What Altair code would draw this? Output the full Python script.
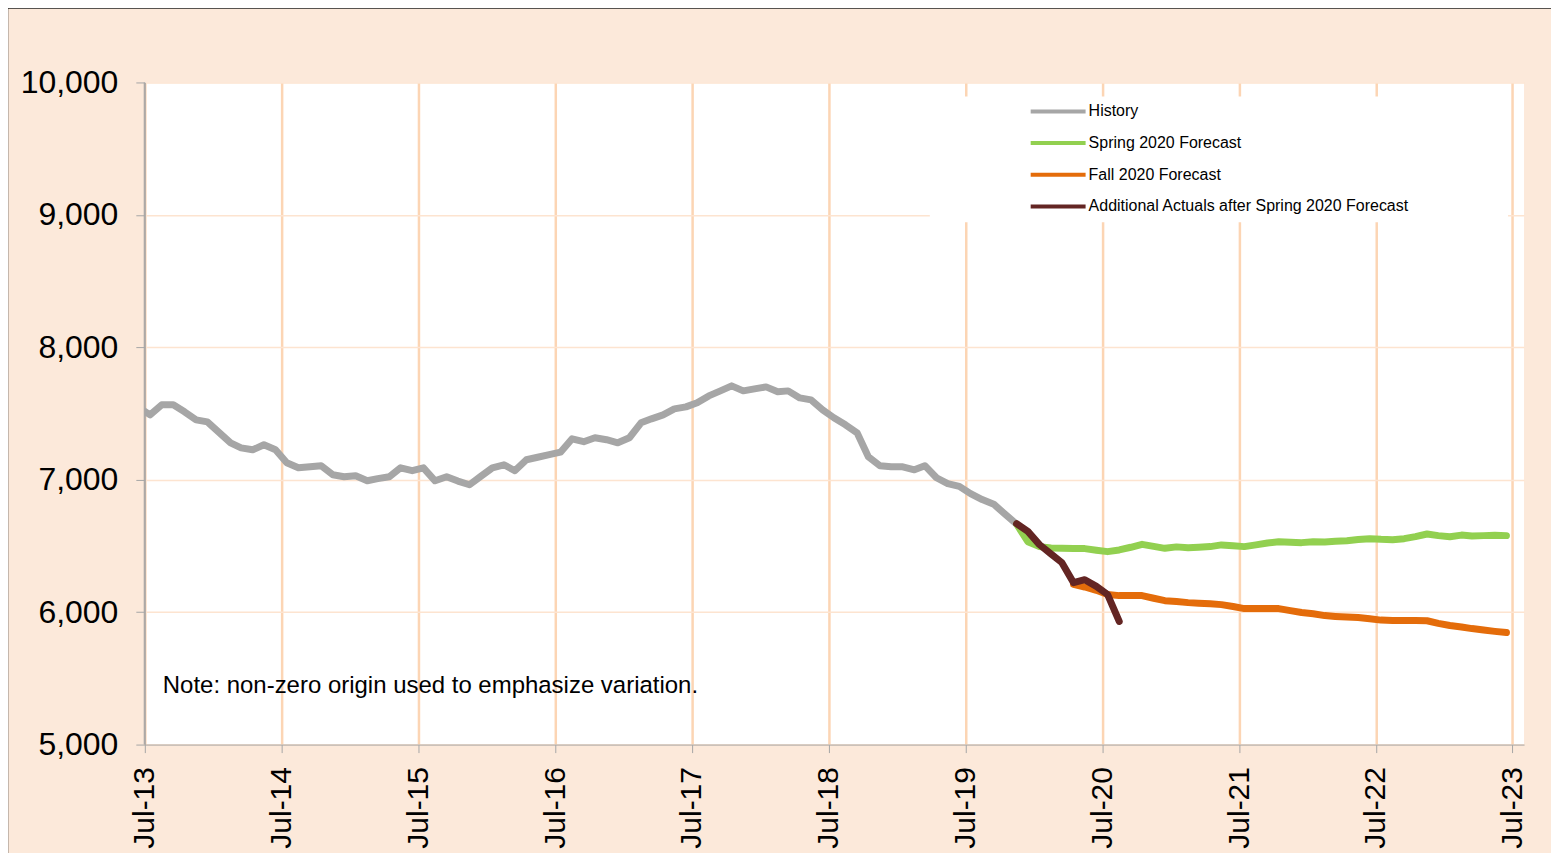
import altair as alt
import pandas as pd

# Monthly points (mid-month), Jun-2013 .. Jun-2023
months = [d.strftime("%Y-%m-%d") for d in (pd.date_range("2013-06-01", "2023-06-01", freq="MS") + pd.Timedelta(days=14))]

history = [7545, 7490, 7566, 7566, 7513, 7452, 7437, 7358, 7279, 7241, 7226, 7264, 7226,
           7128, 7090, 7098, 7106, 7038, 7023, 7030, 6992, 7008, 7023, 7090, 7068,
           7090, 6992, 7023, 6990, 6962, 7025, 7090, 7113, 7068, 7151, 7170, 7190,
           7208, 7309, 7287, 7317, 7302, 7279, 7317, 7430, 7460, 7490, 7535, 7550,
           7581, 7633, 7671, 7709, 7671, 7686, 7701, 7664, 7671, 7618, 7603, 7528,
           7468, 7415, 7354, 7173, 7106, 7098, 7098, 7075, 7106, 7015, 6970, 6950,
           6895, 6850, 6815, 6740, 6665]
history_start = 0

spring = [6665, 6532, 6495, 6485, 6482, 6480, 6480, 6468, 6457, 6470, 6490, 6512,
          6497, 6482, 6493, 6487, 6490, 6495, 6508, 6502, 6495, 6508, 6522, 6532,
          6528, 6525, 6532, 6530, 6535, 6540, 6548, 6555, 6550, 6547, 6555, 6570,
          6590, 6578, 6570, 6582, 6575, 6578, 6580, 6578]
spring_start = 77

fall = [6210, 6190, 6165, 6133, 6125, 6125, 6125, 6105, 6087, 6080, 6072, 6068,
        6063, 6057, 6043, 6027, 6027, 6027, 6027, 6012, 5997, 5988, 5974, 5968,
        5963, 5959, 5950, 5940, 5937, 5937, 5937, 5935, 5915, 5899, 5888, 5876,
        5865, 5855, 5846]
fall_start = 82

actuals = [6668, 6610, 6510, 6440, 6374, 6223, 6245, 6195, 6133, 5930]
actuals_start = 77

series_names = ["History", "Spring 2020 Forecast", "Fall 2020 Forecast",
                "Additional Actuals after Spring 2020 Forecast"]
series_colors = ["#A6A6A6", "#92D050", "#E46C0A", "#632523"]
year_ticks = list(range(2013, 2024))
y_ticks = [5000, 6000, 7000, 8000, 9000, 10000]
note = "Note: non-zero origin used to emphasize variation."

rows = []
for name, vals, start in [(series_names[0], history, history_start),
                          (series_names[1], spring, spring_start),
                          (series_names[2], fall, fall_start),
                          (series_names[3], actuals, actuals_start)]:
    for i, v in enumerate(vals):
        rows.append({"date": months[start + i], "value": v, "series": name})
df = pd.DataFrame(rows)

W, H = 1381, 663
FONT = "Liberation Sans"

x_enc = alt.X("date:T",
              scale=alt.Scale(type="utc",
                              domain=[alt.DateTime(year=2013, month=7, date=1, utc=True),
                                      alt.DateTime(year=2023, month=8, date=1, utc=True)]),
              axis=alt.Axis(values=[alt.DateTime(year=y, month=7, date=1, utc=True) for y in year_ticks],
                            labelExpr="utcFormat(datum.value, '%b-%y')", labelAngle=-90, title=None,
                            grid=True, gridColor="#FCD5B4", gridWidth=2.5,
                            domainColor="#A6A6A6", tickColor="#A6A6A6", tickSize=8,
                            labelFontSize=30, labelFont=FONT, labelColor="black",
                            labelPadding=14))
y_enc = alt.Y("value:Q",
              scale=alt.Scale(domain=[5000, 10000], nice=False, zero=False),
              axis=alt.Axis(values=y_ticks, format=",d", title=None,
                            grid=True, gridColor="#FDE4D0", gridWidth=1.5,
                            domainColor="#A6A6A6", tickColor="#A6A6A6", tickSize=9,
                            labelFontSize=32, labelFont=FONT, labelColor="black",
                            labelPadding=18))
color_enc = alt.Color("series:N",
                      scale=alt.Scale(domain=series_names, range=series_colors),
                      legend=alt.Legend(title=None, orient="none", legendX=898.5, legendY=13,
                                        symbolType="M-2,0H2", symbolSize=756,
                                        symbolStrokeWidth=4, labelFontSize=16, labelFont=FONT,
                                        labelColor="black", labelOffset=14.5, labelLimit=0,
                                        rowPadding=7.7, padding=0))

base = alt.Chart(df)

legend_box = alt.Chart(pd.DataFrame({"a": [0]})).mark_rect(fill="white").encode(
    x=alt.value(786), x2=alt.value(1365), y=alt.value(14), y2=alt.value(140))

# grey y-axis line drawn over the first vertical gridline
y_axis_line = alt.Chart(pd.DataFrame({"a": [0]})).mark_rule(
    stroke="#A6A6A6", strokeWidth=1.2).encode(
    x=alt.value(-0.5), y=alt.value(0), y2=alt.value(H))

layers = [legend_box, y_axis_line]
for name in series_names:
    layers.append(
        base.transform_filter(alt.datum.series == name)
        .mark_line(strokeWidth=7, strokeCap="round", strokeJoin="round", clip=True)
        .encode(x=x_enc, y=y_enc, color=color_enc)
    )

note_layer = alt.Chart(pd.DataFrame({"t": [note]})).mark_text(
    align="left", baseline="middle", fontSize=24, font=FONT, color="black").encode(
    x=alt.value(18), y=alt.value(604), text="t:N")

border_top = alt.Chart(pd.DataFrame({"a": [0]})).mark_rule(
    stroke="#222222", strokeWidth=1.5).encode(
    x=alt.value(-137.5), x2=alt.value(W + 60), y=alt.value(-74.5))
border_left = alt.Chart(pd.DataFrame({"a": [0]})).mark_rule(
    stroke="#222222", strokeWidth=1.5).encode(
    x=alt.value(-137.5), y=alt.value(-74.5), y2=alt.value(H + 120))

chart = alt.layer(*layers, note_layer, border_top, border_left).properties(
    width=W, height=H,
    autosize=alt.AutoSizeParams(type="none"),
    padding={"left": 137, "top": 74, "right": 27, "bottom": 108},
    background="#FCE9DA",
).configure_view(fill="white", stroke=None)

chart.save("out.html", embed_options={"renderer": "svg", "actions": False})
